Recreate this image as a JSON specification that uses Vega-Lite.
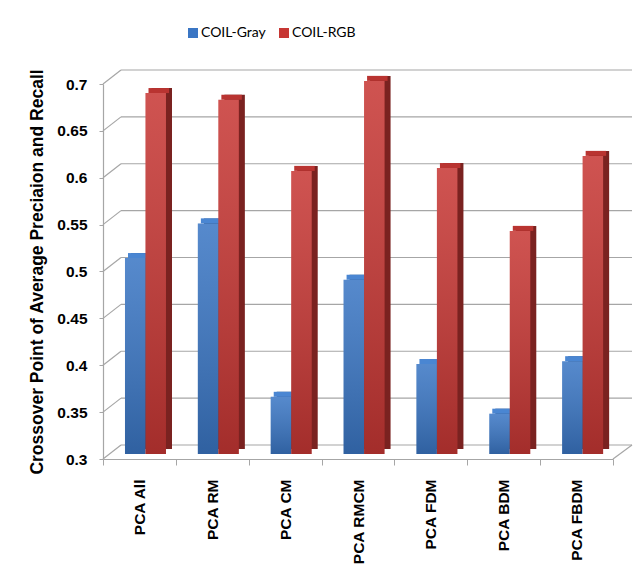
{
  "$schema": "https://vega.github.io/schema/vega-lite/v6.json",
  "width": 510,
  "height": 375,
  "autosize": "none",
  "padding": {"left": 103, "top": 84, "right": 31, "bottom": 116},
  "background": "white",
  "config": {"view": {"stroke": null}, "font": "Liberation Sans"},
  "datasets": {
    "scores": [
      {"method": "PCA All", "series": "COIL-Gray", "value": 0.509},
      {"method": "PCA All", "series": "COIL-RGB", "value": 0.685},
      {"method": "PCA RM", "series": "COIL-Gray", "value": 0.546},
      {"method": "PCA RM", "series": "COIL-RGB", "value": 0.678},
      {"method": "PCA CM", "series": "COIL-Gray", "value": 0.361},
      {"method": "PCA CM", "series": "COIL-RGB", "value": 0.602},
      {"method": "PCA RMCM", "series": "COIL-Gray", "value": 0.486},
      {"method": "PCA RMCM", "series": "COIL-RGB", "value": 0.698},
      {"method": "PCA FDM", "series": "COIL-Gray", "value": 0.396},
      {"method": "PCA FDM", "series": "COIL-RGB", "value": 0.605},
      {"method": "PCA BDM", "series": "COIL-Gray", "value": 0.343},
      {"method": "PCA BDM", "series": "COIL-RGB", "value": 0.538},
      {"method": "PCA FBDM", "series": "COIL-Gray", "value": 0.399},
      {"method": "PCA FBDM", "series": "COIL-RGB", "value": 0.618}
    ],
    "levels": [
      {"level": 0.3}, {"level": 0.35}, {"level": 0.4}, {"level": 0.45}, {"level": 0.5},
      {"level": 0.55}, {"level": 0.6}, {"level": 0.65}, {"level": 0.7}
    ]
  },
  "resolve": {"scale": {"xOffset": "independent", "fill": "independent"}},
  "layer": [
    {
      "data": {"name": "scores"},
      "mark": {"type": "bar", "yOffset": -5, "y2Offset": -5, "color": "#3a76c4"},
      "encoding": {
        "x": {
          "field": "method", "type": "nominal", "sort": null, "title": null,
          "scale": {
            "domain": ["PCA All", "PCA RM", "PCA CM", "PCA RMCM", "PCA FDM", "PCA BDM", "PCA FBDM"],
            "paddingInner": 0, "paddingOuter": 0
          },
          "axis": {
            "labelAngle": 270, "labelFont": "Liberation Sans", "labelFontSize": 15.5, "labelFontWeight": "bold", "labelColor": "#000000",
            "labelPadding": 14, "tickSize": 6, "tickBand": "extent", "tickColor": "#a6a6a6", "domainColor": "#a6a6a6", "domainWidth": 1.2
          }
        },
        "xOffset": {"field": "series", "type": "nominal", "scale": {"paddingInner": 0, "paddingOuter": 0.777, "align": 0.69}},
        "y": {
          "field": "value", "type": "quantitative",
          "title": "Crossover Point of Average Preciaion and Recall",
          "scale": {"domain": [0.3, 0.7], "zero": false, "nice": false},
          "axis": {
            "values": [0.3, 0.35, 0.4, 0.45, 0.5, 0.55, 0.6, 0.65, 0.7], "format": "~g", "grid": false,
            "labelFont": "Liberation Sans", "labelFontSize": 15.5, "labelFontWeight": "bold", "labelColor": "#000000", "labelPadding": 12,
            "tickSize": 4, "tickColor": "#a6a6a6", "domainColor": "#a6a6a6", "domainWidth": 1.2,
            "titleFont": "Liberation Sans", "titleFontSize": 17.5, "titleFontWeight": "bold", "titleColor": "#000000", "titlePadding": 10
          }
        },
        "y2": {"datum": 0.3},
        "opacity": {"value": 0}
      }
    },
    {
      "data": {"name": "levels"},
      "mark": {"type": "rule", "color": "#a6a6a6", "strokeWidth": 1.2, "xOffset": 18, "x2Offset": 55.43, "yOffset": -14, "y2Offset": -14},
      "encoding": {
        "x": {"datum": "PCA All", "bandPosition": 0},
        "x2": {"datum": "PCA FBDM"},
        "y": {"field": "level", "type": "quantitative", "title": "Crossover Point of Average Preciaion and Recall"},
        "y2": {"field": "level"}
      }
    },
    {
      "data": {"name": "levels"},
      "mark": {"type": "rule", "color": "#a6a6a6", "strokeWidth": 1.2, "x2Offset": -18.43, "y2Offset": -14},
      "encoding": {
        "x": {"datum": "PCA All", "bandPosition": 0},
        "x2": {"datum": "PCA All"},
        "y": {"field": "level", "type": "quantitative", "title": "Crossover Point of Average Preciaion and Recall"},
        "y2": {"field": "level"}
      }
    },
    {
      "data": {"name": "levels"},
      "transform": [{"filter": "datum.level == 0.3"}],
      "mark": {"type": "rule", "color": "#a6a6a6", "strokeWidth": 1.2, "y2Offset": -14, "x2Offset": 55.43},
      "encoding": {
        "x": {"datum": "PCA FBDM", "bandPosition": 1},
        "x2": {"datum": "PCA FBDM"},
        "y": {"field": "level", "type": "quantitative", "title": "Crossover Point of Average Preciaion and Recall"},
        "y2": {"field": "level"}
      }
    },
    {
      "data": {"name": "scores"},
      "mark": {"type": "bar", "yOffset": -10, "y2Offset": -10},
      "encoding": {
        "x": {"field": "method", "type": "nominal", "sort": null},
        "xOffset": {"field": "series", "type": "nominal", "scale": {"paddingInner": 0, "paddingOuter": 0.777, "align": 0.879}},
        "y": {"field": "value", "type": "quantitative", "title": "Crossover Point of Average Preciaion and Recall"},
        "y2": {"datum": 0.3},
        "fill": {"field": "series", "type": "nominal", "scale": {"domain": ["COIL-Gray", "COIL-RGB"], "range": ["#28538c", "#7a2220"]}, "legend": null}
      }
    },
    {
      "data": {"name": "scores"},
      "mark": {"type": "bar", "yOffset": -10, "y2Offset": -5},
      "encoding": {
        "x": {"field": "method", "type": "nominal", "sort": null},
        "xOffset": {"field": "series", "type": "nominal", "scale": {"paddingInner": 0, "paddingOuter": 0.777, "align": 0.785}},
        "y": {"field": "value", "type": "quantitative", "title": "Crossover Point of Average Preciaion and Recall"},
        "y2": {"field": "value"},
        "fill": {"field": "series", "type": "nominal", "scale": {"domain": ["COIL-Gray", "COIL-RGB"], "range": ["#4a86d2", "#b93431"]}, "legend": null}
      }
    },
    {
      "data": {"name": "scores"},
      "mark": {"type": "bar", "yOffset": -5, "y2Offset": -5},
      "encoding": {
        "x": {"field": "method", "type": "nominal", "sort": null},
        "xOffset": {"field": "series", "type": "nominal", "scale": {"paddingInner": 0, "paddingOuter": 0.777, "align": 0.69}},
        "y": {"field": "value", "type": "quantitative", "title": "Crossover Point of Average Preciaion and Recall"},
        "y2": {"datum": 0.3},
        "color": {
          "field": "series", "type": "nominal",
          "scale": {"domain": ["COIL-Gray", "COIL-RGB"], "range": ["#3a76c4", "#c73734"]},
          "legend": {
            "orient": "none", "legendX": 83, "legendY": -58, "direction": "horizontal", "title": null,
            "symbolType": "square", "symbolSize": 100, "symbolStrokeWidth": 0,
            "labelFont": "Lato", "labelFontSize": 14, "labelColor": "#000000", "labelOffset": 1, "columnPadding": 11
          }
        }
      }
    },
    {
      "data": {"name": "scores"},
      "mark": {
        "type": "bar", "yOffset": -5, "y2Offset": -5,
        "color": {"gradient": "linear", "x1": 0, "y1": 0, "x2": 0, "y2": 1,
          "stops": [{"offset": 0, "color": "rgba(255,255,255,0.14)"}, {"offset": 1, "color": "rgba(0,0,0,0.18)"}]}
      },
      "encoding": {
        "x": {"field": "method", "type": "nominal", "sort": null},
        "xOffset": {"field": "series", "type": "nominal", "scale": {"paddingInner": 0, "paddingOuter": 0.777, "align": 0.69}},
        "y": {"field": "value", "type": "quantitative", "title": "Crossover Point of Average Preciaion and Recall"},
        "y2": {"datum": 0.3}
      }
    }
  ]
}
